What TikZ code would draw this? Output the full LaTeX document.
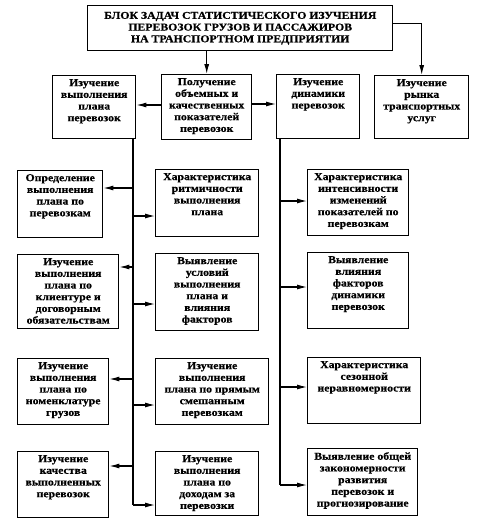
\documentclass[tikz,border=0pt]{standalone}
\usepackage{fontspec}
\setmainfont{Liberation Serif}[FakeStretch=1.12,BoldFeatures={FakeBold=0.6}]
\usetikzlibrary{arrows.meta}
\newcommand{\bx}[6]{%
  \node[box, minimum width={(#4-#2)*1pt}, minimum height={(#5-#3)*1pt}] (#1) at (#2,#3) {};
  \node[txt] (#1-t) at (#1.north) {#6};}
\begin{document}
\begin{tikzpicture}[x=1pt,y=-1pt,
  box/.style={draw, line width=1.4pt, inner sep=0pt, anchor=north west},
  txt/.style={anchor=north, align=center, inner xsep=0pt, inner ysep=4pt,
    font=\fontsize{10.5}{11.7}\selectfont\bfseries},
  ttl/.style={align=center, inner sep=0pt, font=\fontsize{10.5}{11.7}\selectfont\bfseries},
  arr/.style={line width=1.1pt, -{Latex[length=10pt,width=5pt]}},
  ln/.style={line width=1.1pt}]
\useasboundingbox (0,0) rectangle (486,520);
% title
\node[box, minimum width=305pt, minimum height=45pt] (top) at (87,5) {};
\node[ttl] (top-t) at (top.center) {БЛОК ЗАДАЧ СТАТИСТИЧЕСКОГО ИЗУЧЕНИЯ\\ПЕРЕВОЗОК ГРУЗОВ И ПАССАЖИРОВ\\НА ТРАНСПОРТНОМ ПРЕДПРИЯТИИ};
% row 2
\bx{A}{52}{75}{135}{138}{Изучение\\выполнения\\плана\\перевозок}
\bx{B}{161}{74}{251}{139}{Получение\\объемных и\\качественных\\показателей\\перевозок}
\bx{C}{276}{74}{359}{138}{Изучение\\динамики\\перевозок}
\bx{D}{374}{75}{468}{138}{Изучение\\рынка\\транспортных\\услуг}
% left column
\bx{L1}{17}{170}{102}{237}{Определение\\выполнения\\плана по\\перевозкам}
\bx{L2}{17}{254}{118}{328}{Изучение\\выполнения\\плана по\\клиентуре и\\договорным\\обязательствам}
\bx{L3}{17}{358}{108}{424}{Изучение\\выполнения\\плана по\\номенклатуре\\грузов}
\bx{L4}{17}{451}{108}{517}{Изучение\\качества\\выполненных\\перевозок}
% middle column
\bx{M1}{155}{169}{258}{236}{Характеристика\\ритмичности\\выполнения\\плана}
\bx{M2}{155}{253}{258}{330}{Выявление\\условий\\выполнения\\плана и\\влияния\\факторов}
\bx{M3}{155}{358}{268}{424}{Изучение\\выполнения\\плана по прямым\\смешанным\\перевозкам}
\bx{M4}{155}{451}{258}{515}{Изучение\\выполнения\\плана по\\доходам за\\перевозки}
% right column
\bx{R1}{307}{169}{408}{235}{Характеристика\\интенсивности\\изменений\\показателей по\\перевозкам}
\bx{R2}{307}{252}{408}{328}{Выявление\\влияния\\факторов\\динамики\\перевозок}
\bx{R3}{307}{357}{420}{423}{Характеристика\\сезонной\\неравномерности}
\bx{R4}{307}{448}{417}{515}{Выявление общей\\закономерности\\развития\\перевозок и\\прогнозирование}
% top connectors
\draw[arr] (B.north |- top.south) -- (B.north);
\draw[arr] ([yshift=5pt]top.east) -| (D.north);
\draw[arr] (B.west |- 0,105) -- (A.east |- 0,105);
\draw[arr] (B.east |- 0,104) -- (C.west |- 0,104);
% left trunk
\coordinate (lt) at (133,505);
\draw[ln] (A.south -| lt) -- (lt);
\coordinate (p1) at (133,188);
\coordinate (p2) at (133,216);
\coordinate (p3) at (133,267);
\coordinate (p4) at (133,304);
\coordinate (p5) at (133,379);
\coordinate (p6) at (133,405);
\coordinate (p7) at (133,466);
\draw[arr] (p1) -- (p1 -| L1.east);
\draw[arr] (p2) -- (p2 -| M1.west);
\draw[arr] (p3) -- (p3 -| L2.east);
\draw[arr] (p4) -- (p4 -| M2.west);
\draw[arr] (p5) -- (p5 -| L3.east);
\draw[arr] (p6) -- (p6 -| M3.west);
\draw[arr] (p7) -- (p7 -| L4.east);
\draw[arr] (lt) -- (lt -| M4.west);
% right trunk
\coordinate (rt) at (280,485);
\draw[ln] (C.south -| rt) -- (rt);
\coordinate (q1) at (280,201);
\coordinate (q2) at (280,287);
\coordinate (q3) at (280,387);
\draw[arr] (q1) -- (q1 -| R1.west);
\draw[arr] (q2) -- (q2 -| R2.west);
\draw[arr] (q3) -- (q3 -| R3.west);
\draw[arr] (rt) -- (rt -| R4.west);
\end{tikzpicture}
\end{document}
